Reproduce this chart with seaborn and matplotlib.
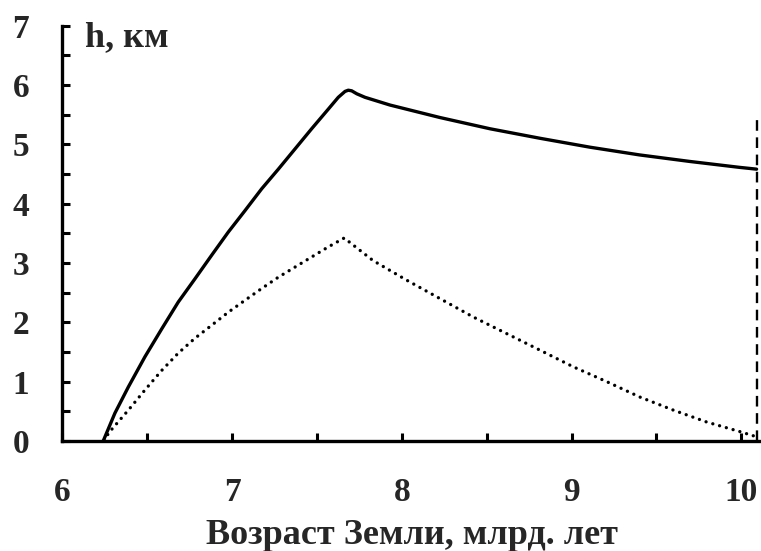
import matplotlib
matplotlib.use("Agg")
import matplotlib.pyplot as plt
from matplotlib.ticker import MultipleLocator
import seaborn as sns
import pandas as pd

# Upper curve: h, km versus Earth age (billion years)
age_solid = [6.24, 6.309, 6.388, 6.486, 6.585, 6.682, 6.78, 6.879, 6.977,
             7.075, 7.174, 7.272, 7.37, 7.468, 7.566, 7.625, 7.665, 7.684,
             7.704, 7.734, 7.783, 7.93, 8.224, 8.52, 8.814, 9.108, 9.40,
             9.696, 9.99, 10.09]
h_solid = [0.0, 0.47, 0.91, 1.42, 1.89, 2.34, 2.73, 3.13, 3.52,
           3.88, 4.25, 4.58, 4.92, 5.26, 5.59, 5.79, 5.89, 5.91,
           5.90, 5.85, 5.79, 5.66, 5.45, 5.26, 5.10, 4.95, 4.82,
           4.71, 4.61, 4.58]

# Lower curve
age_dotted = [6.25, 6.27, 6.388, 6.486, 6.585, 6.682, 6.78, 6.879, 6.977,
              7.075, 7.174, 7.272, 7.37, 7.468, 7.566, 7.66, 7.83, 8.028,
              8.224, 8.42, 8.617, 8.814, 9.01, 9.207, 9.403, 9.60, 9.796,
              9.99, 10.08]
h_dotted = [0.0, 0.13, 0.52, 0.86, 1.19, 1.48, 1.73, 1.95, 2.17,
            2.37, 2.57, 2.76, 2.93, 3.10, 3.27, 3.42, 3.04, 2.71,
            2.40, 2.09, 1.81, 1.53, 1.25, 1.00, 0.74, 0.52, 0.32,
            0.16, 0.08]

# Vertical marker
marker_age = [10.09, 10.09]
marker_h = [0.0, 5.48]

x_ticks = [6, 7, 8, 9, 10]
y_ticks = [0, 1, 2, 3, 4, 5, 6, 7]
x_label = "Возраст Земли, млрд. лет"
y_label = "h, км"

sns.set_style("ticks")
plt.rcParams["font.family"] = ["Liberation Serif", "DejaVu Serif"]
plt.rcParams["font.weight"] = "bold"

fig = plt.figure(figsize=(7.61, 5.51), dpi=100)
ax = fig.add_axes([0.0821, 0.1996, 0.9179, 0.7541])

df_s = pd.DataFrame({"age": age_solid, "h": h_solid})
df_d = pd.DataFrame({"age": age_dotted, "h": h_dotted})
df_m = pd.DataFrame({"age": marker_age, "h": marker_h})

sns.lineplot(data=df_s, x="age", y="h", ax=ax, color="black", lw=2.4,
             sort=False, estimator=None, solid_joinstyle="round")
sns.lineplot(data=df_d, x="age", y="h", ax=ax, color="black", lw=2.4,
             linestyle=(0, (0.01, 2.1)), sort=False, estimator=None,
             dash_capstyle="round")
sns.lineplot(data=df_m, x="age", y="h", ax=ax, color="black", lw=1.7,
             linestyle=(0, (4.5, 2.8)), sort=False, estimator=None)

ax.set_xlim(6, 10.116)
ax.set_ylim(0, 7)
ax.set_xticks(x_ticks)
ax.set_yticks(y_ticks)
ax.xaxis.set_minor_locator(MultipleLocator(0.5))
ax.yaxis.set_minor_locator(MultipleLocator(0.5))
ax.set_xticklabels([str(v) for v in x_ticks])
ax.set_yticklabels([str(v) for v in y_ticks])

ax.tick_params(which="both", direction="in", length=6, width=2.2,
               color="black")
ax.tick_params(axis="x", which="major", pad=26, labelsize=24)
ax.tick_params(axis="y", which="major", pad=24, labelsize=24)
for lab in ax.get_xticklabels() + ax.get_yticklabels():
    lab.set_fontweight("bold")

for side in ("top", "right"):
    ax.spines[side].set_visible(False)
for side in ("left", "bottom"):
    ax.spines[side].set_linewidth(2.4)
    ax.spines[side].set_color("black")

ax.set_xlabel(x_label, fontsize=26, fontweight="bold", labelpad=8)
ax.set_ylabel("")
ax.text(6.133, 6.66, y_label, fontsize=26, fontweight="bold",
        ha="left", va="baseline")

fig.savefig("out.png", dpi=100)
